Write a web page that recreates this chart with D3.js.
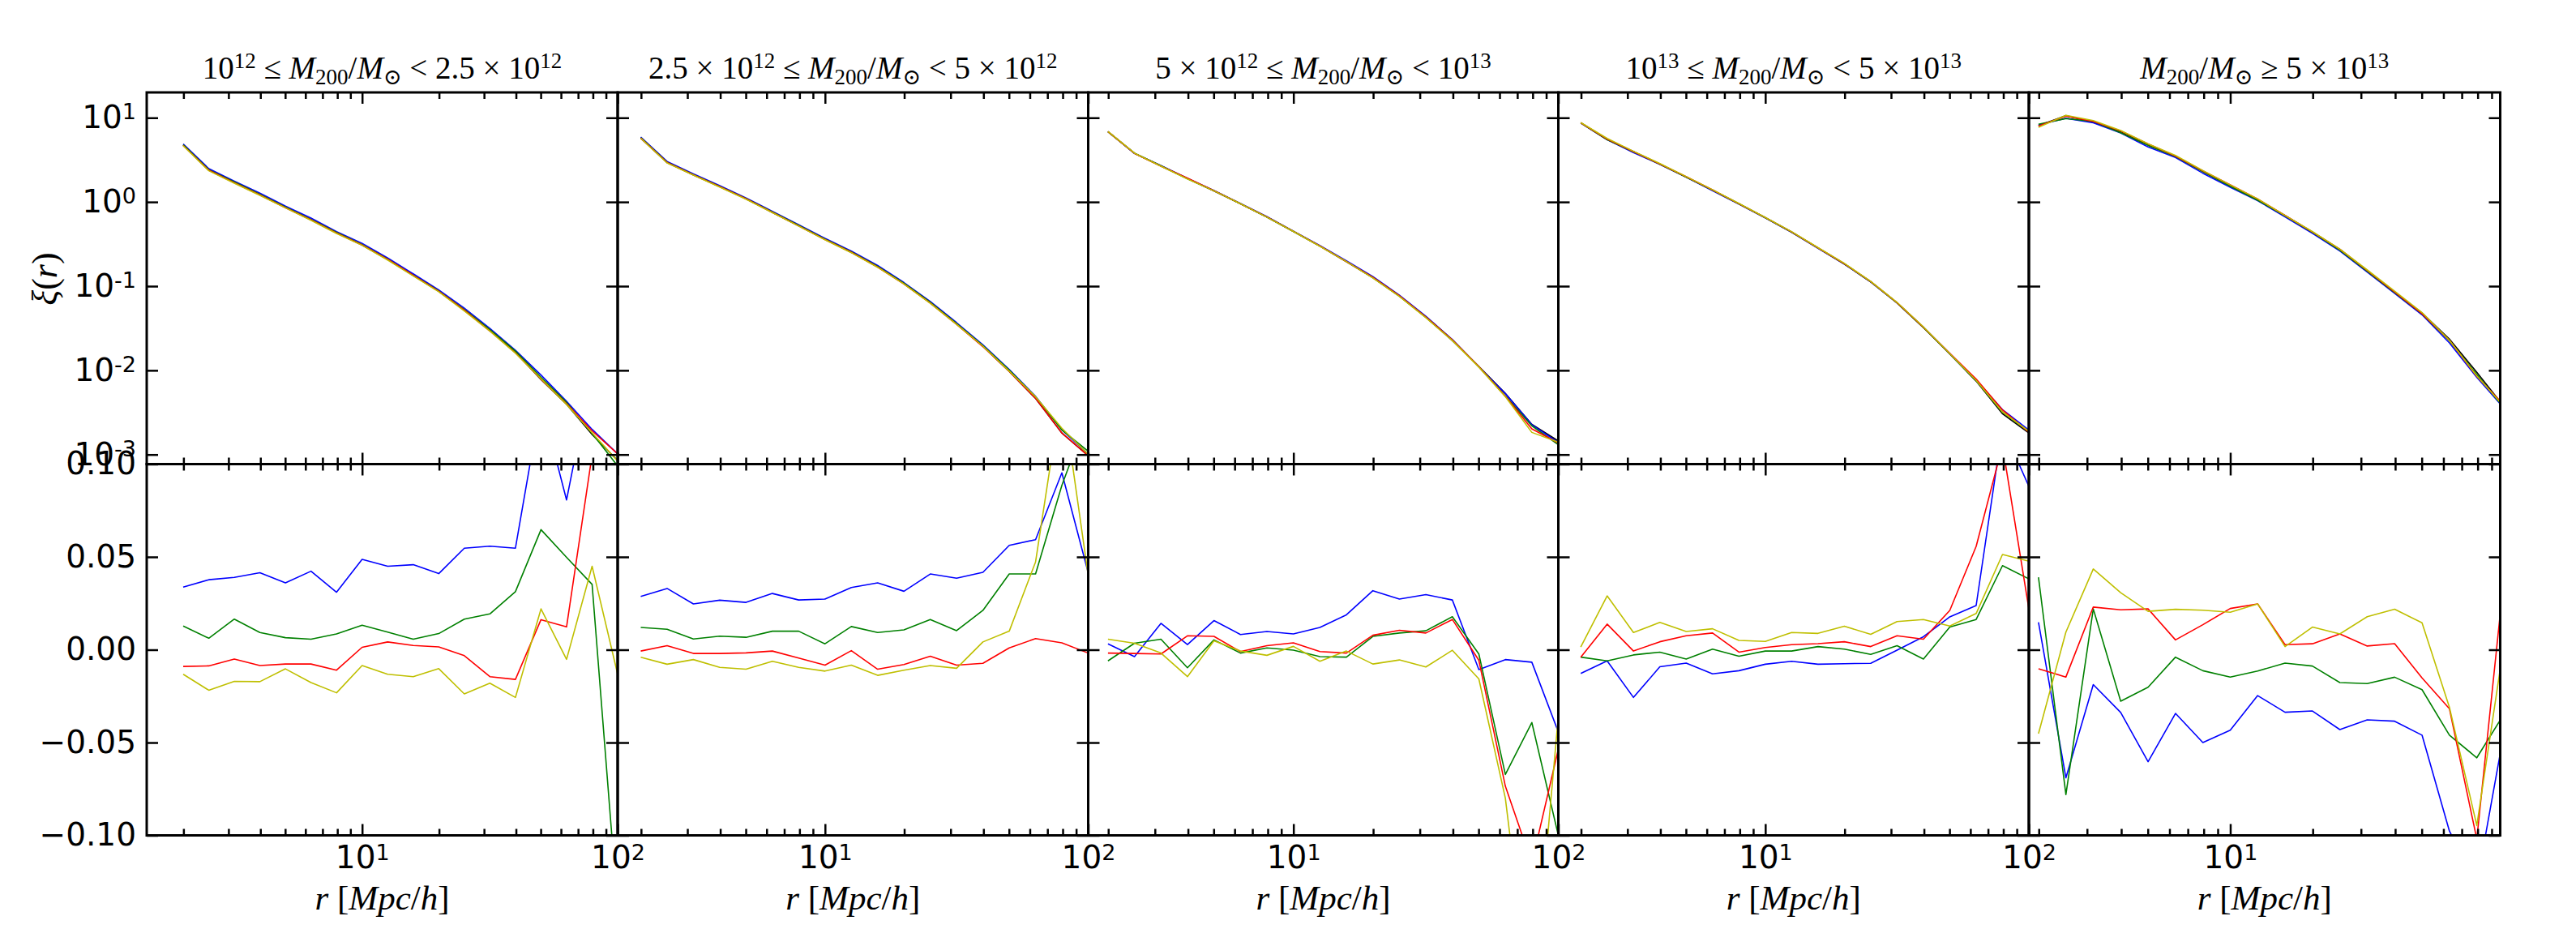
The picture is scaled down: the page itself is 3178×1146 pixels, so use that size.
<!DOCTYPE html>
<html>
<head>
<meta charset="utf-8">
<script src="https://cdn.jsdelivr.net/npm/d3@7/dist/d3.min.js"></script>
<style>
  html, body { margin: 0; padding: 0; background: #fff; }
  svg { display: block; }
  text { white-space: pre; }
</style>
</head>
<body>
<svg id="chart" width="3178" height="1146"></svg>
<script>
// ---------------- DATA ----------------
// radial bins r [Mpc/h]
const rBins = [1.995, 2.512, 3.162, 3.981, 5.012, 6.310, 7.943, 10.00, 12.59, 15.85,
               19.95, 25.12, 31.62, 39.81, 50.12, 63.10, 79.43, 100.0];

// reference xi(r) (black curve), one array per mass bin
const xiRefP1 = [4.72, 2.40, 1.70, 1.22, 0.861, 0.617, 0.432, 0.308, 0.207, 0.134, 0.0867, 0.0519, 0.0298, 0.0164, 0.00776, 0.00396, 0.00173, 0.00085];
const xiRefP2 = [5.74, 2.93, 2.10, 1.52, 1.09, 0.752, 0.522, 0.360, 0.252, 0.170, 0.107, 0.0632, 0.0355, 0.0193, 0.00969, 0.00464, 0.00180, 0.00097];
const xiRefP3 = [6.84, 3.78, 2.67, 1.90, 1.35, 0.953, 0.662, 0.446, 0.300, 0.196, 0.126, 0.0759, 0.0426, 0.0226, 0.0111, 0.00531, 0.00228, 0.00145];
const xiRefP4 = [8.74, 5.52, 3.96, 2.82, 1.98, 1.38, 0.953, 0.652, 0.439, 0.284, 0.184, 0.113, 0.0632, 0.0323, 0.0156, 0.00746, 0.00305, 0.00180];
const xiRefP5 = [8.07, 10.6, 8.87, 6.84, 4.79, 3.49, 2.31, 1.56, 1.06, 0.689, 0.439, 0.273, 0.153, 0.0853, 0.0479, 0.0235, 0.00946, 0.00369];
const xiRef = [xiRefP1, xiRefP2, xiRefP3, xiRefP4, xiRefP5];

// relative deviation (lower row) for each coloured sample, per mass bin
const devBlue = [
  [0.0337, 0.0377, 0.039, 0.0415, 0.036, 0.0423, 0.031, 0.0487, 0.045, 0.0458, 0.041, 0.0547, 0.0558, 0.0547, 0.134, 0.0807, 0.15, 0.2],
  [0.0287, 0.033, 0.0247, 0.0267, 0.0255, 0.0303, 0.0268, 0.0273, 0.0335, 0.036, 0.0315, 0.0408, 0.0385, 0.0417, 0.0562, 0.0593, 0.0953, 0.0415],
  [0.0032, -0.0037, 0.0142, 0.0028, 0.0157, 0.0082, 0.0098, 0.0085, 0.012, 0.0188, 0.0318, 0.0273, 0.0297, 0.0268, -0.0107, -0.0053, -0.0067, -0.0443],
  [-0.0128, -0.006, -0.0257, -0.0092, -0.0072, -0.013, -0.0113, -0.0078, -0.0062, -0.0078, -0.0075, -0.0073, -0.0002, 0.007, 0.0177, 0.0238, 0.12, 0.088],
  [0.0148, -0.069, -0.0188, -0.0338, -0.0603, -0.0343, -0.05, -0.0433, -0.0247, -0.0337, -0.033, -0.043, -0.0378, -0.0385, -0.046, -0.0977, -0.126, -0.044]
];
const devGreen = [
  [0.0128, 0.0062, 0.0165, 0.0093, 0.0065, 0.0057, 0.0085, 0.0132, 0.0095, 0.0057, 0.0087, 0.0165, 0.0193, 0.0313, 0.0647, 0.0498, 0.0352, -0.14],
  [0.012, 0.011, 0.0058, 0.0073, 0.0067, 0.01, 0.01, 0.0032, 0.0125, 0.0093, 0.0107, 0.0163, 0.0103, 0.0212, 0.0408, 0.0408, 0.0885, 0.127],
  [-0.006, 0.0035, 0.0057, -0.0097, 0.0053, -0.0018, 0.001, -0.0002, -0.0037, -0.004, 0.0072, 0.009, 0.0102, 0.0178, -0.0023, -0.0672, -0.0392, -0.1],
  [-0.004, -0.006, -0.0028, -0.0013, -0.005, 0.0003, -0.0035, -0.0007, -0.0007, 0.0017, 0.0003, -0.0025, 0.0022, -0.005, 0.0122, 0.0163, 0.0453, 0.0382],
  [0.039, -0.078, 0.022, -0.0277, -0.0202, -0.004, -0.0113, -0.0147, -0.0115, -0.0072, -0.0088, -0.0177, -0.0182, -0.0148, -0.0215, -0.046, -0.0582, -0.0345]
];
const devRed = [
  [-0.009, -0.0087, -0.005, -0.0085, -0.0077, -0.0077, -0.011, 0.0013, 0.0042, 0.0023, 0.0015, -0.0032, -0.0145, -0.016, 0.0162, 0.0123, 0.105, 0.2],
  [-0.0007, 0.0022, -0.002, -0.002, -0.0017, -0.0007, -0.0045, -0.0083, -0.0005, -0.0105, -0.008, -0.0035, -0.0083, -0.0073, 0.001, 0.006, 0.0037, -0.0018],
  [-0.0018, -0.002, -0.0023, 0.0075, 0.0072, -0.001, 0.0022, 0.0037, -0.001, -0.0018, 0.0078, 0.0105, 0.009, 0.0163, -0.0057, -0.0735, -0.115, -0.0535],
  [-0.004, 0.0138, -0.0007, 0.0043, 0.0075, 0.009, -0.0013, 0.0012, 0.0027, 0.0033, 0.0043, 0.0017, 0.0075, 0.0057, 0.0212, 0.0557, 0.11, 0.022],
  [-0.0103, -0.0147, 0.023, 0.0215, 0.022, 0.0053, 0.0135, 0.0222, 0.0247, 0.0027, 0.0032, 0.0085, 0.002, 0.0033, -0.0152, -0.0318, -0.102, 0.04]
];
const devYellow = [
  [-0.0132, -0.0218, -0.017, -0.0172, -0.0103, -0.0177, -0.0232, -0.0085, -0.0132, -0.0145, -0.0102, -0.0238, -0.018, -0.0257, 0.022, -0.0052, 0.045, -0.0132],
  [-0.004, -0.0078, -0.0053, -0.0095, -0.0105, -0.0062, -0.0095, -0.0115, -0.0083, -0.0138, -0.011, -0.0085, -0.01, 0.0042, 0.01, 0.0473, 0.14, 0.04],
  [0.0057, 0.0035, -0.0018, -0.0145, 0.0048, -0.0007, -0.003, 0.0018, -0.0062, -0.0007, -0.0077, -0.0055, -0.0093, -0.0003, -0.0157, -0.08, -0.196, -0.036],
  [0.0015, 0.029, 0.0093, 0.0147, 0.0098, 0.0113, 0.005, 0.0045, 0.0093, 0.0088, 0.0127, 0.0083, 0.0152, 0.0163, 0.0128, 0.0195, 0.0513, 0.0477],
  [-0.0452, 0.0095, 0.0435, 0.0307, 0.0207, 0.0218, 0.0213, 0.0202, 0.0247, 0.0017, 0.0122, 0.0085, 0.0178, 0.0218, 0.0145, -0.031, -0.0947, 0.004]
];

// panel titles (rich text segments: "", "it", "sup", "sub")
const panelTitles = [
  [["10",""],["12","sup"],[" \u2264 ",""],["M","it"],["200","sub"],["/",""],["M","it"],["\u2299","sub"],[" < 2.5 \u00d7 10",""],["12","sup"]],
  [["2.5 \u00d7 10",""],["12","sup"],[" \u2264 ",""],["M","it"],["200","sub"],["/",""],["M","it"],["\u2299","sub"],[" < 5 \u00d7 10",""],["12","sup"]],
  [["5 \u00d7 10",""],["12","sup"],[" \u2264 ",""],["M","it"],["200","sub"],["/",""],["M","it"],["\u2299","sub"],[" < 10",""],["13","sup"]],
  [["10",""],["13","sup"],[" \u2264 ",""],["M","it"],["200","sub"],["/",""],["M","it"],["\u2299","sub"],[" < 5 \u00d7 10",""],["13","sup"]],
  [["M","it"],["200","sub"],["/",""],["M","it"],["\u2299","sub"],[" \u2265 5 \u00d7 10",""],["13","sup"]]
];
const yLabelTop = [["\u03be","it"],["(",""],["r","it"],[")",""]];
const xLabel = [["r","it"],[" [",""],["Mpc","it"],["/",""],["h","it"],["]",""]];

// ticks
const yTopTicks = [10, 1, 0.1, 0.01, 0.001];
const yTopTickLabels = [["10","1"],["10","0"],["10","-1"],["10","-2"],["10","-3"]];
const yBotTicks = [-0.10, -0.05, 0.00, 0.05, 0.10];
const xMajorTicks = [10, 100];
const xMajorTickLabels = [["10","1"],["10","2"]];
const xMinorTicks = [2, 3, 4, 5, 6, 7, 8, 9, 20, 30, 40, 50, 60, 70, 80, 90];

// axis limits
const xDomains = [[1.436, 100], [1.63, 100], [1.68, 100], [1.64, 100], [1.84, 96.7]];
const yTopDomain = [7.7e-4, 20];
const yBotDomain = [-0.1, 0.1];

// ---------------- LAYOUT / STYLE ----------------
const edges = [181, 762, 1342.5, 1922.5, 2503, 3084.5];
const rowTop = 114, rowMid = 572.5, rowBot = 1030.5;
const series = [
  { dev: devBlue,   color: "#0000ff" },
  { dev: devGreen,  color: "#008000" },
  { dev: devRed,    color: "#ff0000" },
  { dev: devYellow, color: "#bfbf00" }
];
const tickFont = "'DejaVu Sans', sans-serif";
const mathFont = "'Liberation Serif', 'DejaVu Serif', serif";
const MAJ = 14, MIN = 8, TICKW = 2.5, SPINEW = 3;

const svg = d3.select("#chart");
svg.append("rect").attr("width", 3178).attr("height", 1146).attr("fill", "#fff");

const yTop = d3.scaleLog().domain(yTopDomain).range([rowMid, rowTop]);
const yBot = d3.scaleLinear().domain(yBotDomain).range([rowBot, rowMid]);

function richText(sel, segs, o) {
  let cur = 0;
  segs.forEach(([t, s]) => {
    const target = s === "sup" ? o.sup : (s === "sub" ? o.sub : 0);
    const ts = sel.append("tspan").text(t);
    if (target - cur !== 0) ts.attr("dy", target - cur);
    cur = target;
    if (s === "sup" || s === "sub") ts.attr("font-size", o.small);
    if (s === "it") ts.attr("font-style", "italic");
  });
}

function powLabel(textSel, lab, supDy) {
  textSel.text(null);
  textSel.append("tspan").text(lab[0]);
  textSel.append("tspan").text(lab[1]).attr("font-size", 27).attr("dy", supDy);
}

function styleAxis(g) {
  g.select(".domain").remove();
  g.selectAll(".tick line").attr("stroke", "#000").attr("stroke-width", TICKW);
  g.selectAll(".tick text").attr("fill", "#000");
  g.attr("font-family", tickFont).attr("font-size", 39);
}

function inDom(vals, dom) {
  return vals.filter(v => v >= dom[0] * 0.999 && v <= dom[1] * 1.001);
}

const defs = svg.append("defs");

for (let i = 0; i < 5; i++) {
  const x0 = edges[i], x1 = edges[i + 1];
  const x = d3.scaleLog().domain(xDomains[i]).range([x0, x1]);
  const maj = inDom(xMajorTicks, xDomains[i]);
  const minr = inDom(xMinorTicks, xDomains[i]);

  [["top", rowTop, rowMid], ["bot", rowMid, rowBot]].forEach(([nm, ya, yb]) => {
    defs.append("clipPath").attr("id", `clip-${nm}-${i}`)
      .append("rect").attr("x", x0).attr("y", ya).attr("width", x1 - x0).attr("height", yb - ya);
  });

  // ---- top row: xi(r)
  const gTop = svg.append("g").attr("clip-path", `url(#clip-top-${i})`);
  const lineTop = d3.line().x(d => x(d[0])).y(d => yTop(d[1]));
  gTop.append("path")
    .attr("d", lineTop(rBins.map((r, k) => [r, xiRef[i][k]])))
    .attr("fill", "none").attr("stroke", "#000").attr("stroke-width", 1.6);
  series.forEach(s => {
    gTop.append("path")
      .attr("d", lineTop(rBins.map((r, k) => [r, xiRef[i][k] * (1 + s.dev[i][k])])))
      .attr("fill", "none").attr("stroke", s.color).attr("stroke-width", 1.6)
      .attr("stroke-linejoin", "round");
  });

  // ---- bottom row: relative deviation
  const gBot = svg.append("g").attr("clip-path", `url(#clip-bot-${i})`);
  const lineBot = d3.line().x(d => x(d[0])).y(d => yBot(d[1]));
  series.forEach(s => {
    gBot.append("path")
      .attr("d", lineBot(rBins.map((r, k) => [r, s.dev[i][k]])))
      .attr("fill", "none").attr("stroke", s.color).attr("stroke-width", 1.6)
      .attr("stroke-linejoin", "round");
  });

  // ---- axes, both rows
  [["top", rowTop, rowMid, yTop, yTopTicks], ["bot", rowMid, rowBot, yBot, yBotTicks]].forEach(([nm, ya, yb, ys, yt]) => {
    const isBottomRow = nm === "bot";
    // x axes: bottom spine
    const gxb = svg.append("g").attr("transform", `translate(0,${yb})`)
      .call(d3.axisBottom(x).tickValues(maj).tickSize(-MAJ).tickPadding(13).tickSizeOuter(0));
    styleAxis(gxb);
    if (isBottomRow) {
      gxb.selectAll(".tick text").each(function(d) {
        powLabel(d3.select(this), xMajorTickLabels[xMajorTicks.indexOf(d)], -10);
      });
    } else {
      gxb.selectAll(".tick text").remove();
    }
    const gxbm = svg.append("g").attr("transform", `translate(0,${yb})`)
      .call(d3.axisBottom(x).tickValues(minr).tickSize(-MIN).tickFormat(() => "").tickSizeOuter(0));
    styleAxis(gxbm);
    // x axes: top spine
    const gxt = svg.append("g").attr("transform", `translate(0,${ya})`)
      .call(d3.axisTop(x).tickValues(maj).tickSize(-MAJ).tickFormat(() => "").tickSizeOuter(0));
    styleAxis(gxt);
    const gxtm = svg.append("g").attr("transform", `translate(0,${ya})`)
      .call(d3.axisTop(x).tickValues(minr).tickSize(-MIN).tickFormat(() => "").tickSizeOuter(0));
    styleAxis(gxtm);
    // y axes: left spine
    const gyl = svg.append("g").attr("transform", `translate(${x0},0)`)
      .call(d3.axisLeft(ys).tickValues(yt).tickSize(-MAJ).tickPadding(13).tickSizeOuter(0)
        .tickFormat(isBottomRow ? d3.format(".2f") : (() => "")));
    styleAxis(gyl);
    if (i !== 0) {
      gyl.selectAll(".tick text").remove();
    } else if (!isBottomRow) {
      gyl.selectAll(".tick text").each(function(d) {
        powLabel(d3.select(this), yTopTickLabels[yTopTicks.indexOf(d)], -11);
      });
    }
    // y axes: right spine
    const gyr = svg.append("g").attr("transform", `translate(${x1},0)`)
      .call(d3.axisRight(ys).tickValues(yt).tickSize(-MAJ).tickFormat(() => "").tickSizeOuter(0));
    styleAxis(gyr);

    // frame
    svg.append("rect").attr("x", x0).attr("y", ya).attr("width", x1 - x0).attr("height", yb - ya)
      .attr("fill", "none").attr("stroke", "#000").attr("stroke-width", SPINEW);
  });

  // title
  const tt = svg.append("text").attr("x", (x0 + x1) / 2).attr("y", 97)
    .attr("text-anchor", "middle").attr("font-family", mathFont).attr("font-size", 39).attr("fill", "#000");
  richText(tt, panelTitles[i], { sup: -13, sub: 7, small: 27 });

  // x label
  const xl = svg.append("text").attr("x", (x0 + x1) / 2).attr("y", 1122)
    .attr("text-anchor", "middle").attr("font-family", mathFont).attr("font-size", 43).attr("fill", "#000");
  richText(xl, xLabel, { sup: 0, sub: 0, small: 43 });
}

// y label
const yl = svg.append("text").attr("transform", "translate(70,344) rotate(-90)")
  .attr("text-anchor", "middle").attr("font-family", mathFont).attr("font-size", 44).attr("fill", "#000");
richText(yl, yLabelTop, { sup: 0, sub: 0, small: 44 });
</script>
</body>
</html>
